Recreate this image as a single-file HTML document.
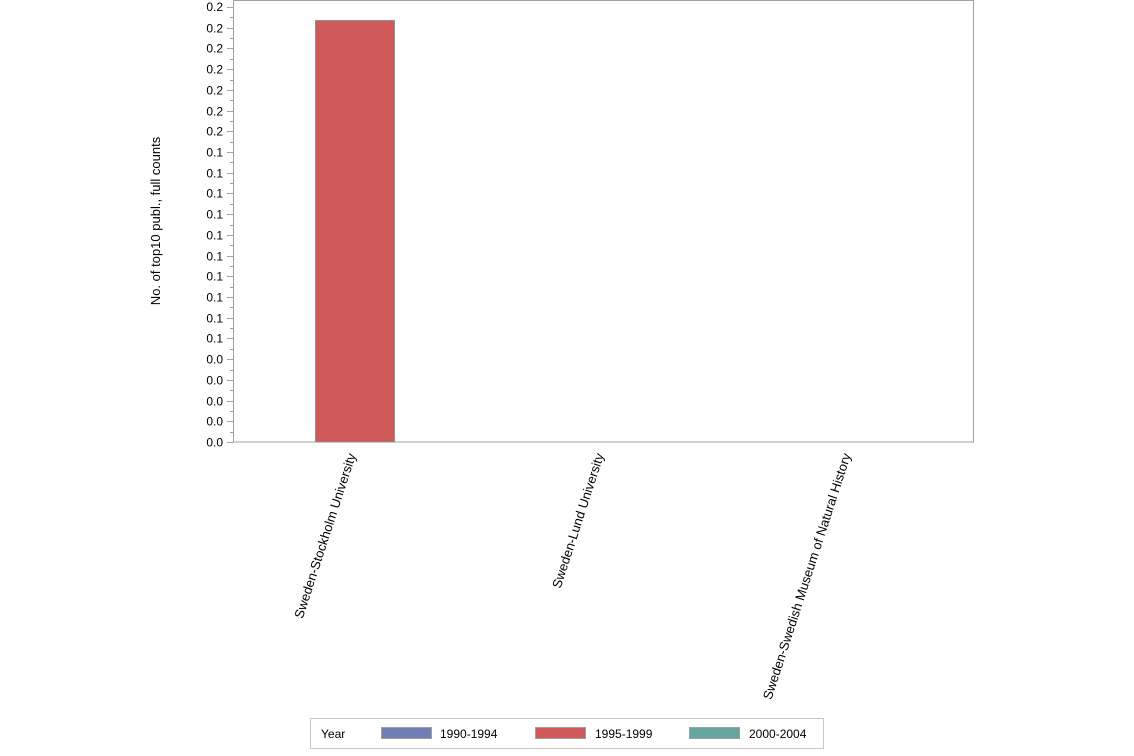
<!DOCTYPE html>
<html><head><style>body{margin:0;background:#fff}svg{display:block}text{font-family:"Liberation Sans",sans-serif;font-size:12px;fill:#000}.b{font-size:13px}</style></head><body>
<svg width="1134" height="756" xmlns="http://www.w3.org/2000/svg">
<rect x="0" y="0" width="1134" height="756" fill="#fff"/>
<rect x="233.5" y="0.5" width="740" height="441.5" fill="#fff" stroke="#a0a0a0"/>
<rect x="315.5" y="20.5" width="79" height="421.5" fill="#d05a5a" stroke="#909090"/>
<text class="b" transform="translate(160,221) rotate(-90)" text-anchor="middle">No. of top10 publ., full counts</text>
<text class="b" transform="translate(356,455) rotate(-72)" text-anchor="end">Sweden-Stockholm University</text>
<text class="b" transform="translate(604,455) rotate(-72)" text-anchor="end">Sweden-Lund University</text>
<text class="b" transform="translate(851,455) rotate(-72)" text-anchor="end">Sweden-Swedish Museum of Natural History</text>
<rect x="310.5" y="718.5" width="513" height="30" fill="#fff" stroke="#c8c8c8"/>
<text x="321" y="738">Year</text>
<rect x="381.5" y="727.5" width="50" height="11" fill="#6f7fb5" stroke="#a0a0a0"/>
<text x="440" y="738">1990-1994</text>
<rect x="535.5" y="727.5" width="50" height="11" fill="#d05a5a" stroke="#a0a0a0"/>
<text x="595" y="738">1995-1999</text>
<rect x="689.5" y="727.5" width="50" height="11" fill="#66a6a0" stroke="#a0a0a0"/>
<text x="749" y="738">2000-2004</text>
<g stroke="#a0a0a0" id="tk">
<line x1="227" y1="7.5" x2="233" y2="7.5"/>
</g>
<g>
<text x="223" y="11" text-anchor="end">0.2</text>
</g>
</svg>
<script>
var ns="http://www.w3.org/2000/svg",s=document.querySelector('svg'),tk=document.getElementById('tk');
var vals=["0.2","0.2","0.2","0.2","0.2","0.2","0.2","0.1","0.1","0.1","0.1","0.1","0.1","0.1","0.1","0.1","0.1","0.0","0.0","0.0","0.0","0.0"];
var step=(442-7)/21;
for(var i=0;i<22;i++){var y=Math.round(7+i*step)+0.5;
var l=document.createElementNS(ns,'line');l.setAttribute('x1',227);l.setAttribute('x2',233);l.setAttribute('y1',y);l.setAttribute('y2',y);tk.appendChild(l);
if(i<21){var m=document.createElementNS(ns,'line');var ym=Math.round(7+(i+0.5)*step)+0.5;m.setAttribute('x1',230);m.setAttribute('x2',233);m.setAttribute('y1',ym);m.setAttribute('y2',ym);tk.appendChild(m);}
if(i>0){var t=document.createElementNS(ns,'text');t.setAttribute('x',223);t.setAttribute('y',y+4);t.setAttribute('text-anchor','end');t.textContent=vals[i];s.appendChild(t);}}
</script>
</body></html>
